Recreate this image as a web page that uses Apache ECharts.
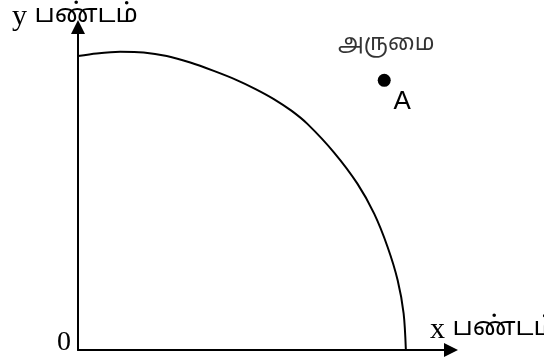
<!DOCTYPE html>
<html>
<head>
<meta charset="utf-8">
<script src="https://cdn.jsdelivr.net/npm/echarts@6/dist/echarts.min.js"></script>
<style>
  html, body { margin: 0; padding: 0; background: #fff; }
  #chart { width: 544px; height: 360px; }
</style>
</head>
<body>
<div id="chart"></div>
<script>
// production possibility curve (0..100 on both axes)
const curveX = [0, 5, 11.3, 17.6, 23.8, 30.1, 36.4, 42.7, 47.6, 52.5, 57.2, 61.5, 68.6, 74.9, 79.4, 83, 85.7, 87.3, 87.9];
const curveY = [91, 91.8, 92.3, 92.1, 91, 89, 86.4, 83.5, 80.8, 77.7, 74.1, 70, 61.2, 51.5, 42.2, 31.9, 21.6, 11.3, 0];
const pointA = [82.1, 83.5];
const pointName = 'A';
const scarcityLabel = 'அருமை';
const goodsWord = 'பண்டம்';
const xLetter = 'x';
const yLetter = 'y';
const originLabel = '0';

const chart = echarts.init(document.getElementById('chart'));

const serif = 'Liberation Serif, serif';
const sans = 'Liberation Sans, sans-serif';
const tamil = 'Noto Sans Tamil, Liberation Sans, sans-serif';

const axisStyle = {
    type: 'value',
    min: 0,
    max: 100,
    splitLine: { show: false },
    axisTick: { show: false },
    axisLabel: { show: false },
    axisLine: {
        lineStyle: { color: '#000', width: 2 },
        symbol: ['none', 'triangle'],
        symbolSize: [14, 14]
    }
};

const nameRich = {
    l: { fontFamily: serif, fontSize: 30, fill: '#000' },
    t: { fontFamily: tamil, fontSize: 26, fill: '#000' }
};

const option = {
    animation: false,
    grid: { left: 78, right: 93, top: 27, bottom: 10 },
    xAxis: axisStyle,
    yAxis: axisStyle,
    series: [
        {
            type: 'line',
            smooth: 0.3,
            showSymbol: false,
            lineStyle: { color: '#000', width: 2 },
            data: curveX.map((x, i) => [x, curveY[i]])
        },
        {
            type: 'scatter',
            symbolSize: 13,
            itemStyle: { color: '#000', opacity: 1 },
            data: [pointA],
            label: {
                show: true,
                formatter: pointName,
                position: 'inside',
                offset: [18, 22],
                color: '#000',
                fontFamily: sans,
                fontSize: 26
            }
        },
        {
            type: 'scatter',
            symbolSize: 0,
            silent: true,
            data: [pointA],
            label: {
                show: true,
                formatter: scarcityLabel,
                position: 'inside',
                offset: [2, -35],
                color: '#000',
                fontFamily: tamil,
                fontSize: 23
            }
        }
    ],
    graphic: [
        {
            type: 'text',
            left: 12,
            top: 2,
            style: { text: '{l|' + yLetter + ' }{t|' + goodsWord + '}', rich: nameRich }
        },
        {
            type: 'text',
            left: 430,
            top: 315,
            style: { text: '{l|' + xLetter + ' }{t|' + goodsWord + '}', rich: nameRich }
        },
        {
            type: 'text',
            left: 57,
            top: 329,
            style: { text: originLabel, font: '28px ' + serif, fill: '#000' }
        }
    ]
};

chart.setOption(option);
</script>
</body>
</html>
